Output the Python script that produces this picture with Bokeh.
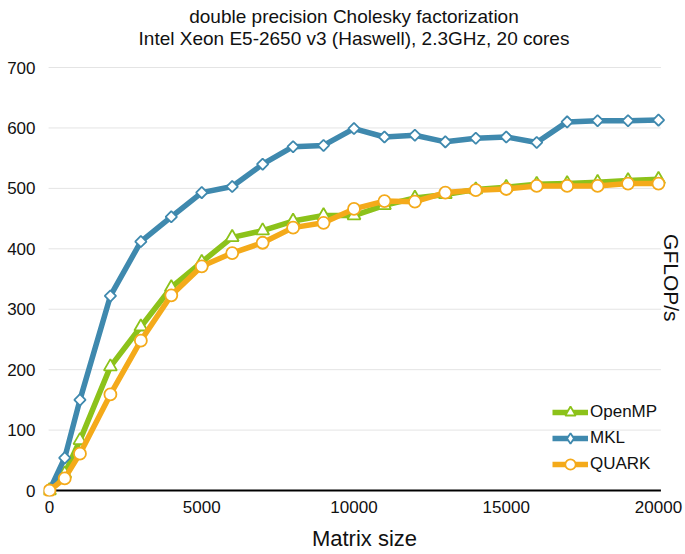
import numpy as np
from bokeh.plotting import figure
from bokeh.models import Range1d, Label, Legend, LegendItem, FixedTicker
from bokeh.embed import file_html
from bokeh.resources import INLINE

sizes = [0, 500, 1000, 2000, 3000, 4000, 5000, 6000, 7000, 8000, 9000, 10000,
         11000, 12000, 13000, 14000, 15000, 16000, 17000, 18000, 19000, 20000]
openmp = [0, 28, 83, 205, 271, 336, 378, 419, 430, 446, 455, 455,
          472, 484, 490, 498, 502, 507, 508, 510, 513, 515]
mkl = [0, 54, 150, 322, 412, 453, 493, 503, 540, 569, 571, 599,
       585, 588, 577, 583, 585, 576, 610, 612, 612, 613]
quark = [0, 20, 61, 159, 248, 323, 371, 393, 410, 435, 443, 466,
         479, 478, 493, 497, 499, 504, 504, 504, 508, 508]
y_ticks = [0, 100, 200, 300, 400, 500, 600, 700]
x_ticks = [0, 5000, 10000, 15000, 20000]

FONT = "Liberation Sans"
GREEN = "#8CC21A"
BLUE = "#3F89AE"
ORANGE = "#F4AA1A"
TXT = "#111111"

p = figure(width=685, height=554, output_backend="svg", toolbar_location=None,
           x_range=Range1d(-197, 20887), y_range=Range1d(-9.9, 810.9),
           min_border_left=43, min_border_right=0, min_border_top=0, min_border_bottom=58)
p.title.visible = False
p.outline_line_color = None
p.background_fill_color = "white"

p.xgrid.visible = False
p.ygrid.visible = False

p.yaxis.ticker = FixedTicker(ticks=y_ticks)
p.xaxis.ticker = FixedTicker(ticks=x_ticks)
for ax in (p.xaxis, p.yaxis):
    ax.axis_line_color = None
    ax.major_tick_line_color = None
    ax.minor_tick_line_color = None
    ax.major_tick_out = 0
    ax.major_tick_in = 0
    ax.minor_tick_out = 0
    ax.minor_tick_in = 0
    ax.major_label_text_font = FONT
    ax.major_label_text_font_size = "17px"
    ax.major_label_text_color = TXT
p.yaxis.major_label_standoff = 8
p.yaxis.axis_label_standoff = 0
p.xaxis.major_label_standoff = 4
p.xaxis.axis_label = "Matrix size"
p.xaxis.axis_label_text_font = FONT
p.xaxis.axis_label_text_font_size = "22px"
p.xaxis.axis_label_text_font_style = "normal"
p.xaxis.axis_label_text_color = TXT
p.xaxis.axis_label_standoff = 10

# horizontal grid lines and the zero line
p.segment(x0=-30, x1=20080, y0=y_ticks[1:], y1=y_ticks[1:], line_color="#e4e4e4", line_width=1)
p.segment(x0=-30, x1=20080, y0=0, y1=0, line_color="black", line_width=2.2)

def series(ys, color, marker, size, angle=0.0):
    ln = p.line(sizes, ys, line_color=color, line_width=5.5, line_join="round")
    sc = p.scatter(sizes, ys, marker=marker, size=size, angle=angle,
                   fill_color="white", line_color=color, line_width=1.8)
    return ln, sc

g1 = series(openmp, GREEN, "triangle", 13)
g2 = series(mkl, BLUE, "square", 8, np.pi / 4)
g3 = series(quark, ORANGE, "circle", 12)

# legend-only diamond (legend swatches ignore marker rotation); its point lies off the frame
mkl_key = p.scatter(x=[-5000], y=[-500], marker="diamond", size=12,
                    fill_color="white", line_color=BLUE, line_width=1.8)

legend = Legend(items=[LegendItem(label="OpenMP", renderers=list(g1)),
                       LegendItem(label="MKL", renderers=[g2[0], mkl_key]),
                       LegendItem(label="QUARK", renderers=list(g3))],
                location=(509, 19), padding=0, spacing=-1, margin=0,
                glyph_width=36, glyph_height=26, label_height=26, label_standoff=2,
                label_text_font=FONT, label_text_font_size="17px", label_text_color=TXT,
                border_line_color=None, background_fill_alpha=0)
p.add_layout(legend)

def label(x, y, text, size, angle=0.0):
    p.add_layout(Label(x=x, y=y, text=text, angle=angle, text_font=FONT,
                       text_font_size=size, text_color=TXT,
                       text_align="center", text_baseline="middle"))

label(10000, 785, "double precision Cholesky factorization", "19px")
label(10000, 748, "Intel Xeon E5-2650 v3 (Haswell), 2.3GHz, 20 cores", "19px")
label(20427, 352, "GFLOP/s", "21px", -np.pi / 2)

open("out.html", "w").write(file_html(p, INLINE))
